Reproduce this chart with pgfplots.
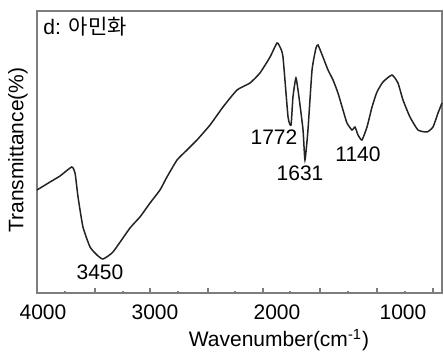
\documentclass[border=0pt]{standalone}
\usepackage{pgfplots}
\pgfplotsset{compat=1.18}
\usepackage{fontspec}
\setmainfont{Liberation Sans}
\newfontfamily\kr{Noto Sans CJK KR}
\definecolor{framegray}{RGB}{125,125,125}
\definecolor{curve}{RGB}{35,35,35}
\begin{document}
\begin{tikzpicture}
\useasboundingbox (0,0) rectangle (222pt,179pt);
\begin{axis}[
  at={(18.5pt,32.5pt)}, anchor=south west,
  scale only axis, width=202.5pt, height=141pt,
  xmin=646, xmax=4021, x dir=reverse,
  ymin=0, ymax=282,
  ytick=\empty,
  axis line style={framegray, line width=0.8pt},
  tick align=inside,
  xtick pos=bottom,
  xtick={3537.5,3079,2596,2137.5,1662.5,1187.5,721},
  minor xtick={3787,3304,2846,2371,1912.5,1429,954},
  xticklabels={},
  major tick length=2.5pt, minor tick length=1.2pt,
  every tick/.style={framegray, line width=0.6pt},
  extra x ticks={3971,3038,2021,971},
  extra x tick labels={4000,3000,2000,1000},
  extra x tick style={major tick length=0pt, xticklabel style={yshift=-2.5pt, font=\fontsize{10.5}{12}\selectfont}},
  xlabel={Wavenumber(cm\textsuperscript{-1})},
  xlabel style={at={(axis description cs:0.5975,-0.167)}, anchor=center, font=\fontsize{10.5}{12}\selectfont},
  ylabel={Transmittance(\%)},
  ylabel style={at={(axis description cs:-0.047,0.507)}, anchor=center, rotate=0, font=\fontsize{10.5}{12}\selectfont},
  clip=false,
]
\addplot[curve, line width=0.75pt, smooth, tension=0.3] coordinates {
(4021,103) (3912.5,111) (3829,117) (3731.7,126) (3704,120) (3679,96) (3638,66)
(3579,46) (3521,38) (3471,34) (3388,41) (3246,65) (3163,76) (3079,90)
(2996,103) (2938,116) (2854,133) (2771,143) (2688,153) (2579,168) (2471,186) (2354,203)
(2246,210) (2163,220) (2079,236) (2021,250) (1996,246) (1971,236) (1929,176)
(1904,168) (1888,196) (1863,215) (1838,196) (1804,163) (1788,133) (1763,163)
(1729,223) (1696,245) (1679,248) (1638,236) (1596,223) (1554,213) (1513,200)
(1471,183) (1438,170) (1396,163) (1371,166) (1346,158) (1313,153) (1271,166)
(1229,186) (1188,201) (1138,211) (1063,218) (1013,210) (971,193) (913,176)
(846,163) (771,161) (721,166) (679,180) (646,190)
};
\node[font=\fontsize{10.5}{12}\selectfont] at (axis cs:3496,21) {3450};
\node[font=\fontsize{10.5}{12}\selectfont] at (axis cs:2046,156) {1772};
\node[font=\fontsize{10.5}{12}\selectfont] at (axis cs:1829,120) {1631};
\node[font=\fontsize{10.5}{12}\selectfont] at (axis cs:1346,139) {1140};
\node[anchor=west, inner sep=0pt, font=\fontsize{10.5}{12}\selectfont] at (axis cs:3971,266) {d: {\kr 아민화}};
\end{axis}
\end{tikzpicture}
\end{document}
